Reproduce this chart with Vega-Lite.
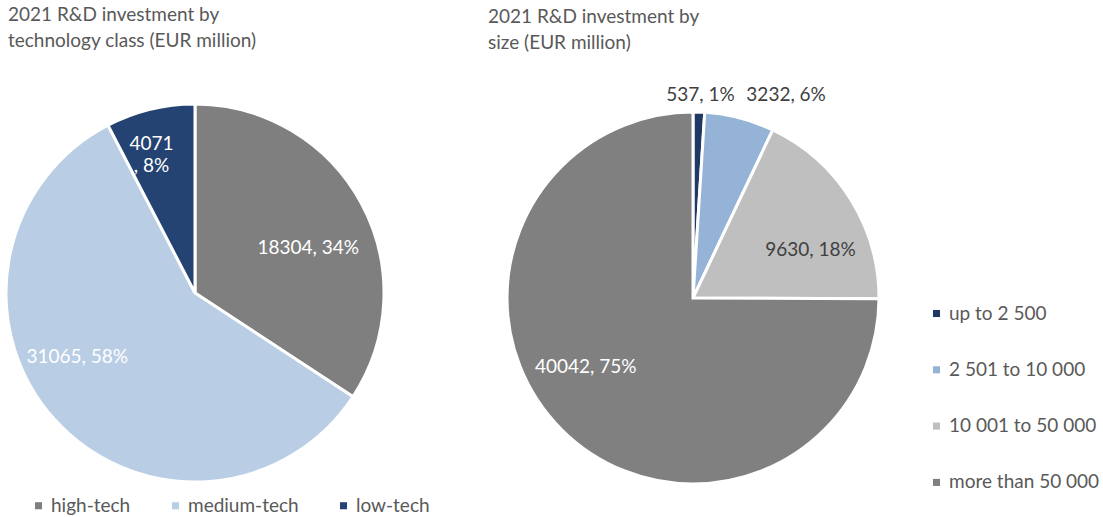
{
  "$schema": "https://vega.github.io/schema/vega-lite/v6.json",
  "padding": {"left": 0, "top": 6, "right": 0, "bottom": 0},
  "autosize": {"type": "pad"},
  "background": "white",
  "bounds": "flush",
  "spacing": 118,
  "resolve": {"scale": {"color": "independent", "theta": "independent"}, "legend": {"color": "independent"}},
  "config": {
    "view": {"stroke": null},
    "font": "Lato",
    "title": {"fontSize": 19, "fontWeight": "normal", "color": "#595959", "anchor": "start", "lineHeight": 26, "offset": 47, "frame": "group"},
    "legend": {"labelFont": "Lato", "labelFontSize": 19, "labelColor": "#595959", "symbolType": "square", "symbolSize": 50, "symbolStrokeWidth": 0, "padding": 0, "labelOffset": 3, "title": null}
  },
  "datasets": {
    "tech": [
      {"class": "high-tech", "value": 18304, "rank": 1, "label": "18304, 34%"},
      {"class": "medium-tech", "value": 31065, "rank": 2, "label": "31065, 58%"},
      {"class": "low-tech", "value": 4071, "rank": 3, "label": "4071\n, 8%"}
    ],
    "size": [
      {"size": "up to 2 500", "value": 537, "rank": 1, "label": "537, 1%"},
      {"size": "2 501 to 10 000", "value": 3232, "rank": 2, "label": "3232, 6%"},
      {"size": "10 001 to 50 000", "value": 9630, "rank": 3, "label": "9630, 18%"},
      {"size": "more than 50 000", "value": 40042, "rank": 4, "label": "40042, 75%"}
    ]
  },
  "hconcat": [
    {
      "width": 388,
      "height": 380,
      "title": {"text": ["2021 R&D investment by", "technology class (EUR million)"], "dx": 7},
      "data": {"name": "tech"},
      "encoding": {
        "theta": {"field": "value", "type": "quantitative", "stack": true},
        "order": {"field": "rank", "type": "quantitative"}
      },
      "layer": [
        {
          "mark": {"type": "arc", "outerRadius": 189, "stroke": "white", "strokeWidth": 3},
          "encoding": {
            "color": {
              "field": "class", "type": "nominal",
              "scale": {"domain": ["high-tech", "medium-tech", "low-tech"], "range": ["#7F7F7F", "#B9CDE5", "#254372"]},
              "legend": {"orient": "none", "legendX": 28, "legendY": 393, "direction": "horizontal", "columnPadding": 35}
            }
          }
        },
        {
          "mark": {"type": "text", "radius": 123, "dx": 5, "dy": 13, "fontSize": 19, "color": "white", "lineBreak": "\n"},
          "encoding": {"text": {"condition": {"test": "datum['class'] === 'high-tech'", "field": "label"}, "value": ""}}
        },
        {
          "mark": {"type": "text", "radius": 133, "dx": -19, "dy": -25, "fontSize": 19, "color": "white", "lineBreak": "\n"},
          "encoding": {"text": {"condition": {"test": "datum['class'] === 'medium-tech'", "field": "label"}, "value": ""}}
        },
        {
          "mark": {"type": "text", "radius": 150, "dx": -8, "dy": -3, "fontSize": 19, "color": "white", "lineBreak": "\n", "lineHeight": 22},
          "encoding": {"text": {"condition": {"test": "datum['class'] === 'low-tech'", "field": "label"}, "value": ""}}
        }
      ]
    },
    {
      "width": 372,
      "height": 390,
      "title": {"text": ["2021 R&D investment by", "size (EUR million)"], "dx": -19, "offset": 26},
      "data": {"name": "size"},
      "encoding": {
        "theta": {"field": "value", "type": "quantitative", "stack": true},
        "order": {"field": "rank", "type": "quantitative"}
      },
      "layer": [
        {
          "mark": {"type": "arc", "outerRadius": 186, "stroke": "white", "strokeWidth": 3},
          "encoding": {
            "color": {
              "field": "size", "type": "nominal",
              "scale": {"domain": ["up to 2 500", "2 501 to 10 000", "10 001 to 50 000", "more than 50 000"], "range": ["#1F3864", "#95B3D7", "#BFBFBF", "#808080"]},
              "legend": {"orient": "none", "legendX": 420, "legendY": 201, "direction": "vertical", "rowPadding": 36.3}
            }
          }
        },
        {
          "mark": {"type": "text", "radius": 205, "dx": 1, "dy": 2, "fontSize": 19, "color": "#404040"},
          "encoding": {"text": {"condition": {"test": "datum['size'] === 'up to 2 500'", "field": "label"}, "value": ""}}
        },
        {
          "mark": {"type": "text", "radius": 212, "dx": 40, "dy": 2, "fontSize": 19, "color": "#404040"},
          "encoding": {"text": {"condition": {"test": "datum['size'] === '2 501 to 10 000'", "field": "label"}, "value": ""}}
        },
        {
          "mark": {"type": "text", "radius": 127, "dx": 10, "dy": 20, "fontSize": 19, "color": "#404040"},
          "encoding": {"text": {"condition": {"test": "datum['size'] === '10 001 to 50 000'", "field": "label"}, "value": ""}}
        },
        {
          "mark": {"type": "text", "radius": 126, "dx": -18, "dy": -20, "fontSize": 19, "color": "white"},
          "encoding": {"text": {"condition": {"test": "datum['size'] === 'more than 50 000'", "field": "label"}, "value": ""}}
        }
      ]
    }
  ]
}
